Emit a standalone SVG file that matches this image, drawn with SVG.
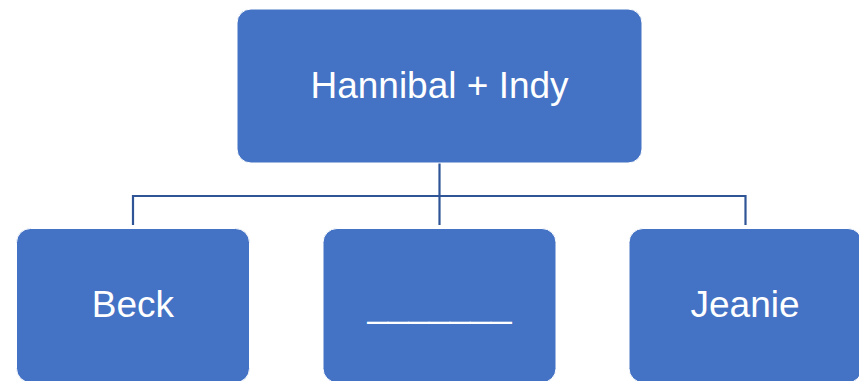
<svg xmlns="http://www.w3.org/2000/svg" width="859" height="381" viewBox="0 0 859 381">
<style>
.box{fill:#4472c4;stroke:#ffffff;stroke-width:1}
.lbl{fill:#ffffff;font-family:"Liberation Sans",Arial,sans-serif;font-size:37px;text-anchor:middle}
.conn{fill:none;stroke:#2f5597;stroke-width:2.2}
</style>
<rect width="859" height="381" fill="#ffffff"/>
<g id="connectors">
<path class="conn" d="M439.5 163 V225 M133 225 V196 H745.5 V225"/>
</g>
<g id="node-top">
<rect class="box" x="237" y="9" width="405" height="154" rx="14"/>
<text class="lbl" x="439.5" y="98">Hannibal + Indy</text>
</g>
<g id="node-beck">
<rect class="box" x="16.5" y="228.5" width="233" height="154" rx="14"/>
<text class="lbl" x="133" y="317">Beck</text>
</g>
<g id="node-blank">
<rect class="box" x="323" y="228.5" width="233" height="154" rx="14"/>
<text class="lbl" x="439.5" y="317">_______</text>
</g>
<g id="node-jeanie">
<rect class="box" x="629" y="228.5" width="233" height="154" rx="14"/>
<text class="lbl" x="745" y="317">Jeanie</text>
</g>
</svg>
